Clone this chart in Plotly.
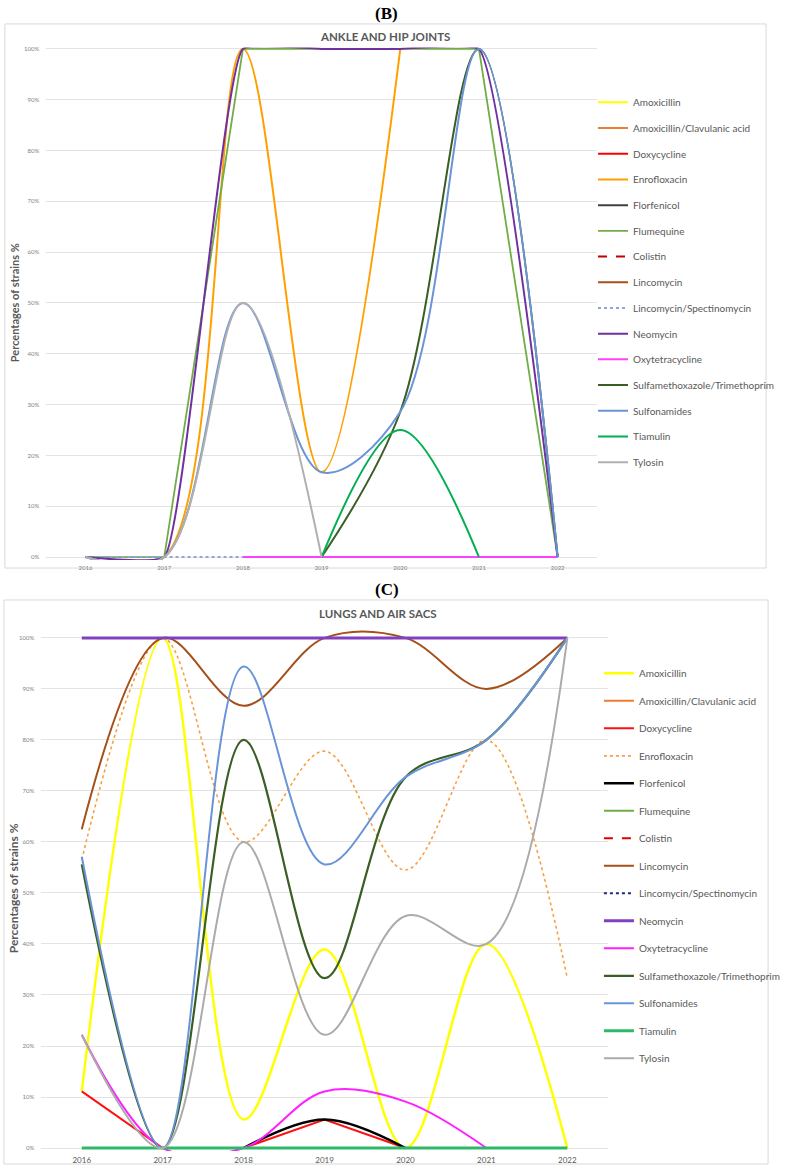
import plotly.graph_objects as go

W, H = 786, 1169
years = ["2016", "2017", "2018", "2019", "2020", "2021", "2022"]

names = ["Amoxicillin", "Amoxicillin/Clavulanic acid", "Doxycycline", "Enrofloxacin",
         "Florfenicol", "Flumequine", "Colistin", "Lincomycin", "Lincomycin/Spectinomycin",
         "Neomycin", "Oxytetracycline", "Sulfamethoxazole/Trimethoprim", "Sulfonamides",
         "Tiamulin", "Tylosin"]

N = None
# Panel B: ankle and hip joints (% of strains)
b_amoxicillin = [N, N, N, N, N, N, N]
b_amox_clav = [N, N, N, N, N, N, N]
b_doxycycline = [N, N, N, N, N, N, N]
b_enrofloxacin = [0, 0, 100, 16.7, 100, N, N]
b_florfenicol = [N, N, N, N, N, N, N]
b_flumequine = [0, 0, 100, 100, 100, 100, 0]
b_colistin = [N, N, N, N, N, N, N]
b_lincomycin = [N, N, N, N, N, N, N]
b_linco_spec = [0, 0, 0, N, N, N, N]
b_neomycin = [0, 0, 100, 100, 100, 100, 0]
b_oxytetracycline = [N, N, 0, 0, 0, 0, 0]
b_sulfa_trim = [N, N, N, 0, 28.6, 100, 0]
b_sulfonamides = [0, 0, 50, 16.7, 28.6, 100, 0]
b_tiamulin = [N, N, N, 0, 25, 0, N]
b_tylosin = [0, 0, 50, 0, N, N, N]

# Panel C: lungs and air sacs (% of strains)
c_amoxicillin = [11.1, 100, 5.6, 38.9, 0, 40, 0]
c_amox_clav = [N, N, N, N, N, N, N]
c_doxycycline = [11.1, 0, 0, 5.6, 0, N, N]
c_enrofloxacin = [56.5, 100, 60, 77.8, 54.5, 80, 33.3]
c_florfenicol = [N, N, 0, 5.6, 0, N, N]
c_flumequine = [N, N, N, N, N, N, N]
c_colistin = [N, N, N, N, N, N, N]
c_lincomycin = [62.5, 100, 86.7, 100, 100, 90, 100]
c_linco_spec = [N, N, N, N, N, N, N]
c_neomycin = [100, 100, 100, 100, 100, 100, 100]
c_oxytetracycline = [22.2, 0, 0, 11.1, 9.1, 0, N]
c_sulfa_trim = [55.6, 0, 80, 33.3, 72.7, 80, 100]
c_sulfonamides = [57.1, 0, 94.4, 55.6, 72.7, 80, 100]
c_tiamulin = [0, 0, 0, 0, 0, 0, 0]
c_tylosin = [22.2, 0, 60, 22.2, 45.5, 40, 100]

panel_b = [b_amoxicillin, b_amox_clav, b_doxycycline, b_enrofloxacin, b_florfenicol,
           b_flumequine, b_colistin, b_lincomycin, b_linco_spec, b_neomycin,
           b_oxytetracycline, b_sulfa_trim, b_sulfonamides, b_tiamulin, b_tylosin]
panel_c = [c_amoxicillin, c_amox_clav, c_doxycycline, c_enrofloxacin, c_florfenicol,
           c_flumequine, c_colistin, c_lincomycin, c_linco_spec, c_neomycin,
           c_oxytetracycline, c_sulfa_trim, c_sulfonamides, c_tiamulin, c_tylosin]

# styles: (color, dash, width, shape, smoothing)
style_b = [
    ("#FFFF00", "solid", 2, "spline", 1.0),
    ("#ED7D31", "solid", 2, "spline", 1.0),
    ("#FF0000", "solid", 2, "spline", 1.0),
    ("#FFA000", "solid", 2, "spline", 1.0),
    ("#404040", "solid", 2, "spline", 1.0),
    ("#70AD47", "solid", 1.8, "linear", 1.0),
    ("#C00000", "dash", 2, "spline", 1.0),
    ("#A5501A", "solid", 2, "spline", 1.0),
    ("#8FA6D6", "dot", 2, "linear", 1.0),
    ("#7030A0", "solid", 2, "spline", 0.35),
    ("#FF40FF", "solid", 2, "linear", 1.0),
    ("#3A5E24", "solid", 2, "spline", 1.0),
    ("#6A94D8", "solid", 2, "spline", 1.0),
    ("#00B050", "solid", 2, "spline", 1.0),
    ("#B0B0B0", "solid", 2, "spline", 1.0),
]
style_c = [
    ("#FFFF00", "solid", 2.5, "spline", 1.0),
    ("#ED7D31", "solid", 2, "spline", 1.0),
    ("#FF1010", "solid", 2, "linear", 1.0),
    ("#F8A040", "dot", 1.6, "spline", 1.0),
    ("#000000", "solid", 2.5, "spline", 1.0),
    ("#70AD47", "solid", 2, "spline", 1.0),
    ("#E00000", "dash", 2, "spline", 1.0),
    ("#A5501A", "solid", 2, "spline", 1.0),
    ("#1F2A80", "dot", 2, "spline", 1.0),
    ("#8040C0", "solid", 3, "linear", 1.0),
    ("#FF20FF", "solid", 2, "spline", 1.0),
    ("#3A5E24", "solid", 2.2, "spline", 1.0),
    ("#6A94D8", "solid", 2, "spline", 1.0),
    ("#2EB86A", "solid", 3, "linear", 1.0),
    ("#ABABAB", "solid", 2, "spline", 1.0),
]


def px(x):
    return x / W


def py(y):
    return 1 - y / H


fig = go.Figure()

for i, (nm, vals) in enumerate(zip(names, panel_b)):
    col, dash, wid, shape, sm = style_b[i]
    fig.add_trace(go.Scatter(
        x=years, y=[v / 100 if v is not None else None for v in vals],
        name=nm, mode="lines", xaxis="x", yaxis="y", legend="legend",
        legendgroup="B%d" % i,
        line=dict(color=col, dash=dash, width=wid, shape=shape, smoothing=sm),
        connectgaps=False, hoverinfo="skip"))

for i, (nm, vals) in enumerate(zip(names, panel_c)):
    col, dash, wid, shape, sm = style_c[i]
    fig.add_trace(go.Scatter(
        x=years, y=[v / 100 if v is not None else None for v in vals],
        name=nm, mode="lines", xaxis="x2", yaxis="y2", legend="legend2",
        legendgroup="C%d" % i,
        line=dict(color=col, dash=dash, width=wid, shape=shape, smoothing=sm),
        connectgaps=False, hoverinfo="skip"))

# Panel geometry in pixels
B_left, B_right, B_top100, B_zero = 47, 607, 47, 556
C_left, C_right, C_top100, C_zero = 42, 618, 637, 1148
ymin, ymax_b, ymax_c = -0.006, 1.003, 1.025


def ydomain(top100, zero, ymax):
    span = zero - top100
    bottom_px = zero + (0 - ymin) * span
    top_px = zero - ymax * span
    return [py(bottom_px), py(top_px)]


tickv = [i / 10 for i in range(11)]
tickt = ["%d%%" % (i * 10) for i in range(11)]
grid = "#E3E3E3"
tickcol = "#7F7F7F"

fig.update_layout(
    width=W, height=H, autosize=False,
    margin=dict(l=0, r=0, t=0, b=0),
    paper_bgcolor="white", plot_bgcolor="rgba(0,0,0,0)",
    showlegend=True,
    xaxis=dict(type="category", domain=[px(B_left), px(B_right)], range=[-0.5, 6.5],
               showgrid=False, zeroline=False, showline=False,
               tickfont=dict(family="Lato", size=6, color=tickcol), ticks="",
               ticklabelstandoff=3, fixedrange=True),
    yaxis=dict(domain=ydomain(B_top100, B_zero, ymax_b), range=[ymin, ymax_b],
               tickvals=tickv, ticktext=tickt, showgrid=True, gridcolor=grid, gridwidth=1,
               zeroline=False, showline=False, ticks="",
               tickfont=dict(family="Lato", size=6, color=tickcol),
               ticklabelstandoff=6, fixedrange=True),
    xaxis2=dict(type="category", domain=[px(C_left), px(C_right)], range=[-0.5, 6.5],
                anchor="y2", showgrid=False, zeroline=False, showline=False,
                tickfont=dict(family="Lato", size=8, color="#595959"), ticks="",
                ticklabelstandoff=3, fixedrange=True),
    yaxis2=dict(domain=ydomain(C_top100, C_zero, ymax_c), range=[ymin, ymax_c],
                anchor="x2", tickvals=tickv, ticktext=tickt, showgrid=True,
                gridcolor=grid, gridwidth=1, zeroline=False, showline=False, ticks="",
                tickfont=dict(family="Lato", size=6, color=tickcol),
                ticklabelstandoff=6, fixedrange=True),
    legend=dict(x=px(603), y=py(86), xanchor="left", yanchor="top",
                font=dict(family="Lato", size=10, color="#595959"),
                bgcolor="rgba(0,0,0,0)", tracegroupgap=6.7, itemwidth=30,
                traceorder="grouped"),
    legend2=dict(x=px(609), y=py(658), xanchor="left", yanchor="top",
                 font=dict(family="Lato", size=10, color="#595959"),
                 bgcolor="rgba(0,0,0,0)", tracegroupgap=8.5, itemwidth=30,
                 traceorder="grouped"),
)

shapes = [
    dict(type="rect", xref="paper", yref="paper", x0=px(5), x1=px(779), y0=py(567), y1=py(22),
         line=dict(color="#D9D9D9", width=1), fillcolor="rgba(0,0,0,0)", layer="below"),
    dict(type="rect", xref="paper", yref="paper", x0=px(4), x1=px(781), y0=py(1164), y1=py(599),
         line=dict(color="#D9D9D9", width=1), fillcolor="rgba(0,0,0,0)", layer="below"),
]
fig.update_layout(shapes=shapes)

ann = [
    dict(text="<b>(B)</b>", x=px(393), y=py(12), showarrow=False, xanchor="center",
         yanchor="middle", font=dict(family="Liberation Serif", size=17, color="black")),
    dict(text="<b>(C)</b>", x=px(393), y=py(589), showarrow=False, xanchor="center",
         yanchor="middle", font=dict(family="Liberation Serif", size=17, color="black")),
    dict(text="<b>ANKLE AND HIP JOINTS</b>", x=px(391), y=py(35), showarrow=False,
         xanchor="center", yanchor="middle",
         font=dict(family="Lato", size=11.5, color="#595959")),
    dict(text="<b>LUNGS AND AIR SACS</b>", x=px(384), y=py(613), showarrow=False,
         xanchor="center", yanchor="middle",
         font=dict(family="Lato", size=11.5, color="#595959")),
    dict(text="<b>Percentages of strains %</b>", x=px(15), y=py(301), showarrow=False,
         textangle=-90, xanchor="center", yanchor="middle",
         font=dict(family="Lato", size=11, color="#595959")),
    dict(text="<b>Percentages of strains %</b>", x=px(14), y=py(888), showarrow=False,
         textangle=-90, xanchor="center", yanchor="middle",
         font=dict(family="Lato", size=12, color="#595959")),
]
for a in ann:
    a["xref"] = "paper"
    a["yref"] = "paper"
fig.update_layout(annotations=ann)

fig.write_html("out.html")
